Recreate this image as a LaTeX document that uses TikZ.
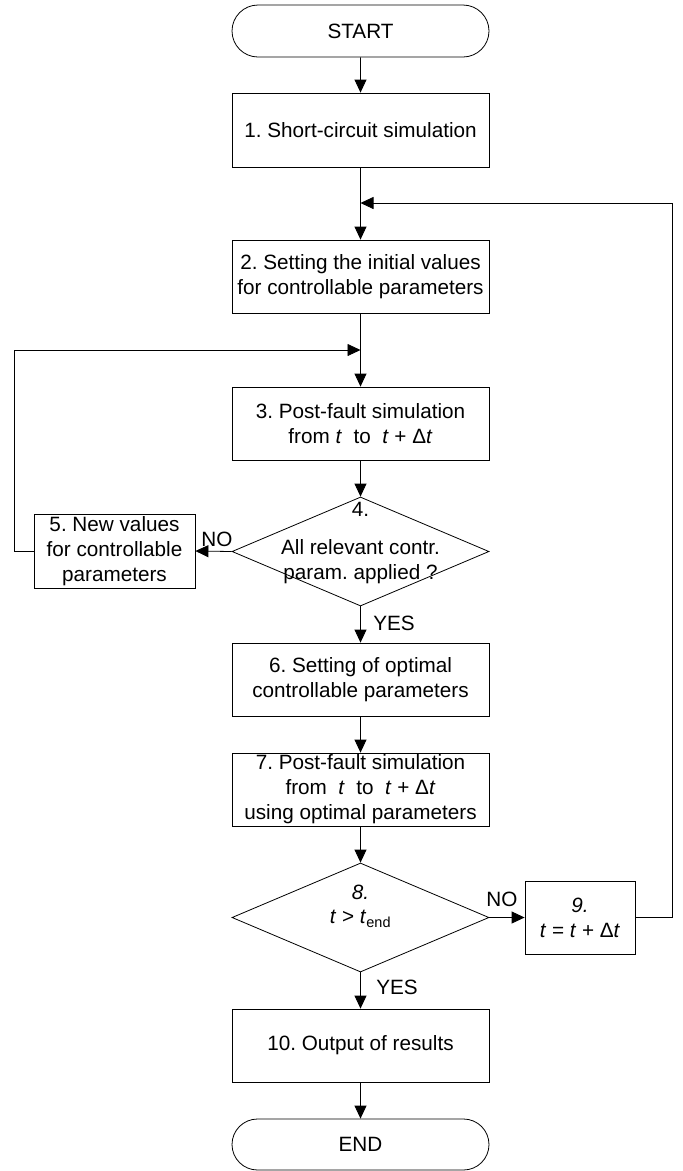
\documentclass[tikz,border=0pt]{standalone}
\usepackage{fontspec}
\setmainfont{Liberation Sans}
\usetikzlibrary{shapes.geometric,shapes.misc,arrows.meta}
\frenchspacing
\begin{document}
\begin{tikzpicture}[x=1pt,y=-1pt,
  every node/.style={font=\fontsize{20.7}{25}\selectfont\frenchspacing, text=black},
  box/.style={draw, line width=0.8pt, rectangle, minimum width=257pt, minimum height=73pt, inner sep=0pt, align=center},
  term/.style={draw, line width=0.8pt, rounded rectangle, minimum width=257pt, minimum height=52pt, inner sep=0pt},
  dia/.style={draw, line width=0.8pt, diamond, minimum width=257pt, minimum height=109pt, inner sep=0pt},
  txt/.style={align=center, inner sep=0pt},
  arr/.style={-{Triangle[length=13pt,width=12pt]}, line width=0.8pt}]
\path[use as bounding box] (0,0) rectangle (683,1171);
% nodes
\node[term] (start) at (360.5,31) {START};
\node[box, minimum height=74pt] (b1) at (360.5,130) {1. Short-circuit simulation};
\node[box] (b2) at (360.5,276.5) {2. Setting the initial values\\for controllable parameters};
\node[box] (b3) at (360.5,423.5) {3. Post-fault simulation\\from \textit{t}\ \ to\ \ \textit{t} + Δ\textit{t}};
\node[dia] (d4) at (360.5,551.5) {};
\node[txt] (d4a) at (360.5,509) {4.};
\node[txt] (d4b) at (360.5,561.5) {All relevant contr.\\param. applied ?};
\node[box, minimum width=161pt, minimum height=74pt] (b5) at (114.5,551) {5. New values\\for controllable\\parameters};
\node[box] (b6) at (360.5,679.5) {6. Setting of optimal\\controllable parameters};
\node[box] (b7) at (360.5,789.5) {7. Post-fault simulation\\from\ \ \textit{t}\ \ to\ \ \textit{t} + Δ\textit{t}\\using optimal parameters};
\node[dia] (d8) at (360.5,917.5) {};
\node[txt] (d8a) at (360.5,892) {\textit{8.}};
\node[txt] (d8b) at (360.5,919) {\textit{t} > \textit{t}\textsubscript{end}};
\node[box, minimum width=110pt] (b9) at (580,917.5) {\textit{9.}\\\textit{t} = \textit{t} + Δ\textit{t}};
\node[box] (b10) at (360.5,1045.5) {10. Output of results};
\node[term, minimum height=51pt] (end) at (360.5,1144.5) {END};
% labels
\node[txt] (no1) at (217,539) {NO};
\node[txt] (yes1) at (394,623) {YES};
\node[txt] (no2) at (502,899) {NO};
\node[txt] (yes2) at (397,987) {YES};
% coordinates
\coordinate (j1) at (360.5,203);
\coordinate (j2) at (360.5,350);
\coordinate (rc) at (672,203);
\coordinate (lc) at (14,350);
% connectors
\draw[arr] (start) -- (b1);
\draw[arr] (b1) -- (b2);
\draw[arr] (b9.east) -| (rc) -- (j1);
\draw[arr] (b2) -- (b3);
\draw[arr] (b5.west) -| (lc) -- (j2);
\draw[arr] (b3) -- (d4);
\draw[arr] (d4.west) -- (b5.east);
\draw[arr] (d4) -- (b6);
\draw[arr] (b6) -- (b7);
\draw[arr] (b7) -- (d8);
\draw[arr] (d8.east) -- (b9.west);
\draw[arr] (d8) -- (b10);
\draw[arr] (b10) -- (end);
\end{tikzpicture}
\end{document}
